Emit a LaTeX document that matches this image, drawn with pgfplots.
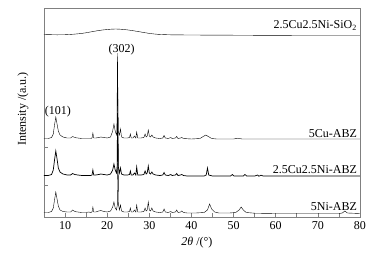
\documentclass[border=0pt]{standalone}
\usepackage{pgfplots}
\pgfplotsset{compat=1.18}
\usepackage{fontspec}
\setmainfont{Liberation Serif}
\begin{document}
\fontsize{12}{14}\selectfont
\begin{tikzpicture}
\begin{axis}[
  scale only axis, width=316pt, height=209pt,
  xmin=5, xmax=80, ymin=0, ymax=209,
  /pgf/number format/assume math mode=true,
  axis line style={gray, line width=0.6pt},
  tick pos=left, tick align=inside,
  xtick={10,20,...,80}, minor xtick={5,15,...,75},
  ytick={32,70}, yticklabels={},
  major tick length=4pt, minor tick length=4pt,
  tick style={gray, line width=0.6pt},
  ticklabel style={font=\fontsize{12}{14}\selectfont},
  xlabel={\textit{2θ} /(°)}, ylabel={Intensity /(a.u.)},
  xlabel style={at={(axis description cs:0.484,-0.1244)}, anchor=center},
  ylabel style={at={(axis description cs:-0.0665,0.517)}, anchor=center},
  cycle list={{black, line width=0.7pt, mark=none}},
]
% 5Ni-ABZ
\addplot coordinates {(5,4.5)(6,4.5)(6.8,5.5)(7.2,9)(7.5,17)(7.8,25)(8.1,18)(8.4,11)(8.8,7)(9.5,5.5)(10.5,5)(11.3,5)(11.8,7)(12.3,5.5)(13,5)(14,4.5)(15,4.5)(15.6,5)(16.1,4.5)(16.4,5)(16.6,10)(16.8,5)(17.3,5)(18,6)(18.5,6.5)(19.2,5.5)(20,5)(20.8,6)(21.3,10)(21.6,15)(21.9,9)(22.2,7)(22.4,12)(22.55,80)(22.7,12)(22.9,7)(23.15,12)(23.4,6)(24,5)(24.8,5)(25.3,5.5)(25.5,9)(25.7,5)(26.1,5)(26.5,7)(26.8,5)(27.0,12)(27.25,5)(28,5)(28.7,5.5)(29.0,9)(29.25,6)(29.5,7)(29.75,15)(30.0,7)(30.3,6)(30.6,9)(30.9,6)(31.5,5)(32.5,4.5)(33.2,5)(33.5,8)(33.8,5)(34.5,4.5)(35.1,5.5)(35.4,4.5)(36.2,5)(36.5,7)(36.8,4.5)(37.4,5)(37.7,6)(38.1,4.5)(39,4)(41,4)(43,4.5)(43.8,7)(44.3,13)(44.8,8)(45.5,5)(46.5,4)(49,4)(50.5,4.5)(51.3,7)(51.8,10)(52.3,7)(53,4.5)(55,3.8)(60,3.5)(65,3.5)(70,3.5)(75,3.5)(75.8,4)(76.4,6)(77,4)(80,3.5)};
% 2.5Cu2.5Ni-ABZ
\addplot coordinates {(5,41.5)(6,41.5)(6.8,42.5)(7.2,47)(7.5,57)(7.8,66)(8.1,58)(8.4,49)(8.8,45)(9.5,43)(10.5,42)(11.3,42)(11.8,43.5)(12.3,42.5)(13,42)(14,41.5)(15,41.5)(16.1,41.5)(16.4,42)(16.6,47)(16.8,42)(17.3,42)(18,42.5)(18.5,43)(19.2,42.5)(20,42)(20.8,43)(21.3,47)(21.6,53)(21.9,47)(22.2,44)(22.35,50)(22.5,118)(22.65,50)(22.9,44)(23.15,49)(23.4,43)(24,42)(24.8,42)(25.3,42.5)(25.5,46)(25.7,42)(26.1,42)(26.5,44)(26.8,42)(27.0,50)(27.25,42)(28,42)(28.7,42.5)(29.0,46)(29.25,43)(29.5,44)(29.75,51)(30.0,44)(30.3,43)(30.6,45)(30.9,43)(31.5,42)(32.5,41.5)(33.2,42)(33.5,44.5)(33.8,42)(34.5,41.5)(35.1,42.5)(35.4,41.5)(36.2,42)(36.5,43.5)(36.8,41.5)(37.4,42)(37.7,42.5)(38.1,41.5)(39,41)(41,41)(43,41)(43.5,42)(43.8,49)(44.1,42)(45,41)(47,41)(49.3,41)(49.7,42.5)(50.1,41)(52.3,41)(52.7,42.5)(53.1,41)(55,41)(55.7,42)(56,40.8)(56.5,41.8)(57,41)(60,41)(65,41)(70,41)(80,41)};
% 5Cu-ABZ
\addplot coordinates {(5,78.5)(6,78.5)(6.8,79.5)(7.2,83)(7.5,92)(7.8,100)(8.1,93)(8.4,86)(8.8,82)(9.5,80)(10.5,79)(11.3,79)(11.8,80.5)(12.3,79.5)(13,79)(14,78.5)(15,78.5)(16.1,78.5)(16.4,79)(16.6,84)(16.8,79)(17.3,79)(18,79.5)(18.5,80)(19.2,79.5)(20,79)(20.8,80)(21.3,86)(21.6,93)(21.9,86)(22.2,82)(22.3,86)(22.45,164)(22.6,86)(22.9,82)(23.15,88)(23.4,80)(24,79)(24.8,79)(25.3,79.5)(25.5,83)(25.7,79)(26.1,79)(26.5,81)(26.8,79)(27.0,85)(27.25,79)(28,79)(28.7,79.5)(29.0,83)(29.25,80)(29.5,81)(29.75,87)(30.0,81)(30.3,80)(30.6,82)(30.9,80)(31.5,79)(32.5,78.5)(33.2,79)(33.5,81.5)(33.8,79)(34.5,78.5)(35.1,79.5)(35.4,78.5)(36.2,79)(36.5,80.5)(36.8,78.5)(37.4,79)(37.7,79.5)(38.1,78.5)(40,78)(42,78.5)(42.8,80.5)(43.4,82)(44,80.5)(44.8,78.5)(46,78)(50,78)(51,78.8)(52,78)(55,78)(60,78)(70,78)(80,78)};
% 2.5Cu2.5Ni-SiO2
\addplot+[smooth] coordinates {(5,182.5)(8,182.2)(10,182.3)(12,182.8)(14,183.6)(16,185)(18,186.5)(20,187.5)(22,188)(24,187.5)(26,186.4)(28,185)(30,183.6)(32,182.7)(35,182.2)(40,182)(50,181.8)(60,181.6)(70,181.5)(80,181.5)};
\node[anchor=base east, inner sep=0pt] at (axis cs:79.3,188.5) {2.5Cu2.5Ni-SiO\textsubscript{2}};
\node[anchor=base east, inner sep=0pt] at (axis cs:79.3,80) {5Cu-ABZ};
\node[anchor=base east, inner sep=0pt] at (axis cs:79.3,44) {2.5Cu2.5Ni-ABZ};
\node[anchor=base east, inner sep=0pt] at (axis cs:79.3,7) {5Ni-ABZ};
\node[anchor=center, inner sep=0pt] at (axis cs:23.4,167) {(302)};
\node[anchor=center, inner sep=0pt] at (axis cs:8.3,105) {(101)};
\end{axis}
\path ([xshift=-44pt,yshift=-41pt]current axis.south west) rectangle ++(383pt,258pt);
\end{tikzpicture}
\end{document}
